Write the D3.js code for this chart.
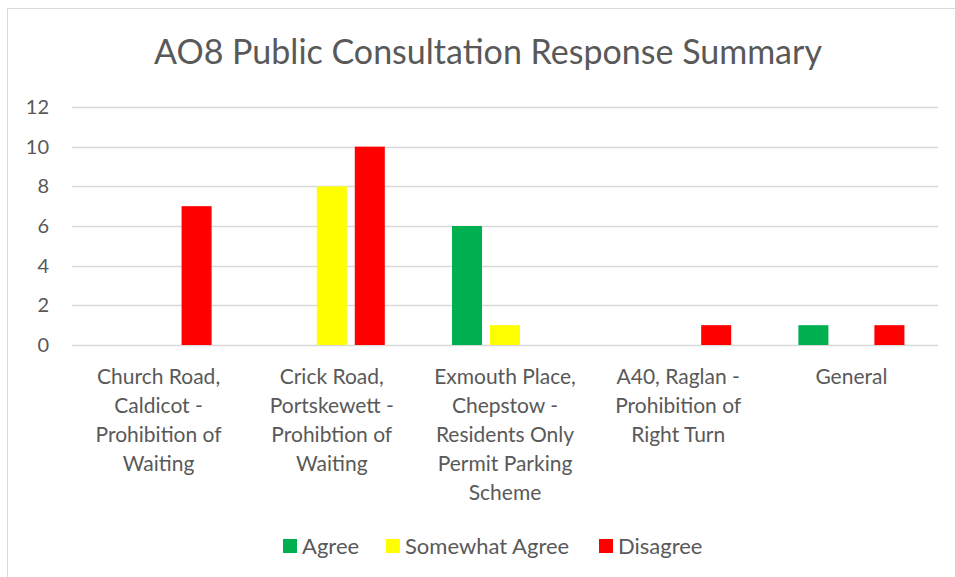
<!DOCTYPE html>
<html>
<head>
<meta charset="utf-8">
<script src="https://cdn.jsdelivr.net/npm/d3@7"></script>
<style>
  body { margin: 0; background: #fff; }
  text { font-family: Lato, "Open Sans", sans-serif; fill: #595959; }
</style>
</head>
<body>
<script>
const categories = [
  ['Church Road,', 'Caldicot -', 'Prohibition of', 'Waiting'],
  ['Crick Road,', 'Portskewett -', 'Prohibtion of', 'Waiting'],
  ['Exmouth Place,', 'Chepstow -', 'Residents Only', 'Permit Parking', 'Scheme'],
  ['A40, Raglan -', 'Prohibition of', 'Right Turn'],
  ['General']
];
const seriesNames = ['Agree', 'Somewhat Agree', 'Disagree'];
const seriesColors = ['#00b050', '#ffff00', '#ff0000'];
const agree = [0, 0, 6, 0, 1];
const somewhatAgree = [0, 8, 1, 0, 0];
const disagree = [7, 10, 0, 1, 1];
const yTicks = [0, 2, 4, 6, 8, 10, 12];

const values = [agree, somewhatAgree, disagree];
const width = 955;
const height = 577;
const margins = { top: 107, bottom: 232, left: 72, right: 17 };

const svg = d3.create('svg')
  .attr('width', width)
  .attr('height', height);

// chart border
svg.append('rect')
  .attr('x', 7.5)
  .attr('y', 8.5)
  .attr('width', width + 10)
  .attr('height', height + 10)
  .attr('fill', 'none')
  .attr('stroke', '#d9d9d9');

const xScale = d3.scaleBand(d3.range(categories.length), [margins.left, width - margins.right]);
const x1 = d3.scaleBand(d3.range(seriesNames.length), [0, xScale.bandwidth()])
  .paddingInner(0.21)
  .paddingOuter(0.884);
const yScale = d3.scaleLinear([0, 12], [height - margins.bottom, margins.top]);

// gridlines
svg.append('g')
  .selectAll('line')
  .data(yTicks)
  .join('line')
  .attr('x1', margins.left)
  .attr('x2', width - margins.right)
  .attr('y1', d => Math.round(yScale(d)) + 0.5)
  .attr('y2', d => Math.round(yScale(d)) + 0.5)
  .attr('stroke', '#d9d9d9')
  .attr('stroke-width', 1.5);

// y tick labels
svg.append('g')
  .selectAll('text')
  .data(yTicks)
  .join('text')
  .attr('x', 49)
  .attr('y', d => yScale(d))
  .attr('dy', '0.35em')
  .attr('text-anchor', 'end')
  .attr('font-size', 20)
  .text(d => d);

// bars
const bars = [];
values.forEach((vals, s) => vals.forEach((v, c) => bars.push({ s, c, v })));
svg.append('g')
  .selectAll('rect')
  .data(bars.filter(d => d.v > 0))
  .join('rect')
  .attr('x', d => xScale(d.c) + x1(d.s))
  .attr('width', x1.bandwidth())
  .attr('y', d => yScale(d.v))
  .attr('height', d => yScale(0) - yScale(d.v))
  .attr('fill', d => seriesColors[d.s]);

// category labels
svg.append('g')
  .selectAll('text')
  .data(categories)
  .join('text')
  .attr('x', (d, i) => xScale(i) + xScale.bandwidth() / 2)
  .attr('y', 384)
  .attr('text-anchor', 'middle')
  .attr('font-size', 21)
  .selectAll('tspan')
  .data(d => d)
  .join('tspan')
  .attr('x', function() { return this.parentNode.getAttribute('x'); })
  .attr('dy', (d, i) => i === 0 ? 0 : 29)
  .text(d => d);

// title
svg.append('text')
  .attr('x', 488)
  .attr('y', 64)
  .attr('text-anchor', 'middle')
  .attr('font-size', 34)
  .text('AO8 Public Consultation Response Summary');

// legend
const legendX = [283, 386, 599];
const legend = svg.append('g')
  .selectAll('g')
  .data(seriesNames)
  .join('g')
  .attr('transform', (d, i) => `translate(${legendX[i]}, 539)`);
legend.append('rect')
  .attr('width', 14)
  .attr('height', 14)
  .attr('fill', (d, i) => seriesColors[i]);
legend.append('text')
  .attr('x', 19)
  .attr('y', 7)
  .attr('dy', '0.35em')
  .attr('font-size', 22)
  .text(d => d);

document.body.append(svg.node());
</script>
</body>
</html>
